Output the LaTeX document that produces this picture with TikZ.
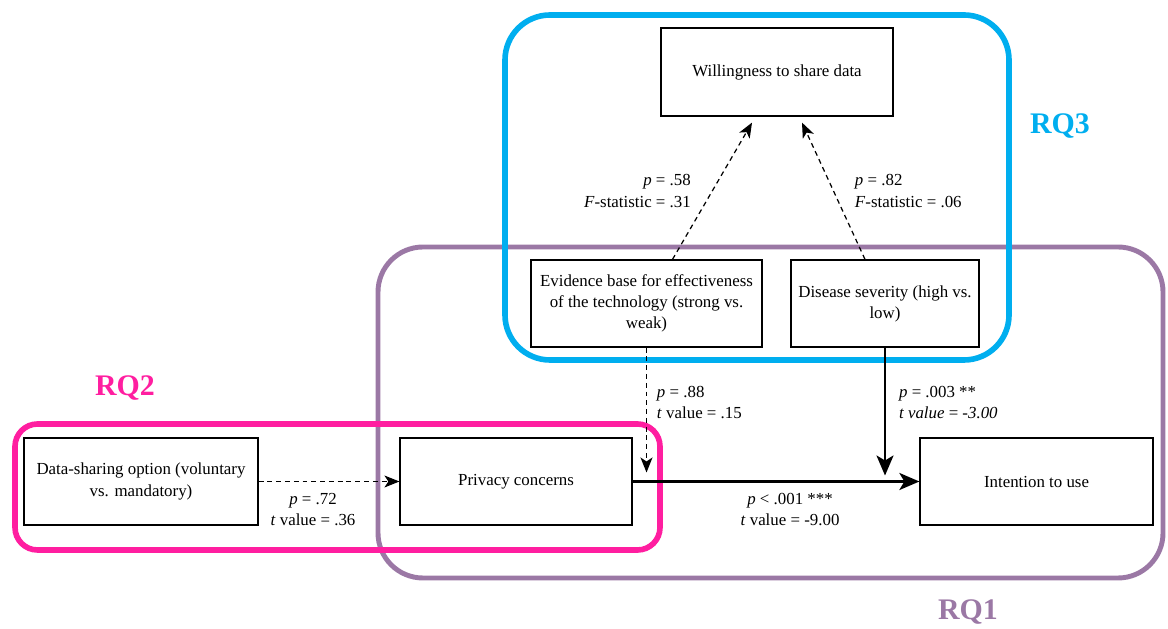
\documentclass[tikz,border=0pt]{standalone}
\usepackage{fontspec}
\setmainfont{Liberation Serif}
\usetikzlibrary{arrows.meta}
\definecolor{rqblue}{RGB}{0,174,239}
\definecolor{rqpink}{RGB}{255,30,160}
\definecolor{rqpurple}{RGB}{155,120,165}
\tikzset{
	var/.style={draw,fill=white,line width=0.7pt,align=center,inner sep=0pt,minimum height=1.74cm},
	stat/.style={font=\fontsize{9.6}{12}\selectfont,align=left},
	rq/.style={font=\fontsize{17}{20}\selectfont\bfseries},
	frame/.style={line width=3.2pt,rounded corners=0.9cm},
	ns/.style={dash pattern=on 2.8pt off 2.2pt,line width=0.7pt,-{Stealth[length=0.3cm,width=0.24cm,inset=0.08cm]}},
	sig/.style={line width=1.4pt,-{Stealth[length=0.4cm,width=0.34cm,inset=0.1cm]}}
}
\begin{document}
\begin{tikzpicture}[every node/.append style={font=\fontsize{9.6}{12}\selectfont}]
\useasboundingbox (0,0) rectangle (23.36,12.56);

% research question frames
\draw[frame,rqpurple,line width=2.8pt](7.56,1.00) rectangle (23.26,7.62);
\draw[frame,rqblue](10.10,5.36) rectangle (20.18,12.26);
\draw[frame,rqpink,rounded corners=0.45cm](0.30,1.56) rectangle (13.20,4.08);
\node[rq,rqblue](rq3) at (21.2,10.04){RQ3};
\node[rq,rqpink](rq2) at (2.5,4.8){RQ2};
\node[rq,rqpurple](rq1) at (19.36,0.32){RQ1};

	\node[var,minimum width=4.64cm,minimum height=1.76cm](share) at (15.54,11.12){Willingness to share data};
	\node[var,minimum width=4.62cm](evidence) at (12.93,6.49){Evidence base for effectiveness\\of the technology (strong vs.\\weak)};
	\node[var,minimum width=3.76cm](severity) at (17.70,6.49){Disease severity (high vs.\\low)};
	\node[var,minimum width=4.68cm](option) at (2.82,2.93){Data-sharing option (voluntary\\vs. mandatory)};
	\node[var,minimum width=4.64cm](privacy) at (10.32,2.93){Privacy concerns};
	\node[var,minimum width=4.66cm](intention) at (20.73,2.93){Intention to use};

\draw[ns]([xshift=0.52cm]evidence.north)--([xshift=-0.5cm,yshift=-0.12cm]share.south)node[midway,left=0.3cm,stat,align=right]{\textit{p} = .58\\\textit{F}-statistic = .31};
\draw[ns]([xshift=-0.4cm]severity.north)--([xshift=0.5cm,yshift=-0.12cm]share.south)node[midway,right=0.3cm,stat]{\textit{p} = .82\\\textit{F}-statistic = .06};

\draw[sig](privacy)--(intention)node[midway,below=0.1cm,xshift=0.28cm,stat,align=center]{\textit{p} {\textless} .001 ***\\\textit{t} value = -9.00};
\draw[ns](option)--(privacy)node[midway,below=0.1cm,xshift=-0.32cm,stat,align=center]{\textit{p} = .72\\\textit{t} value = .36};

\coordinate(evidenceend) at ([yshift=0.18cm]evidence.south |- privacy.east);
\coordinate(severityend) at ([yshift=0.12cm]severity.south |- intention.west);
\draw[ns](evidence.south)--(evidenceend)node[midway,right=0.08cm,yshift=0.16cm,stat]{\textit{p} = .88\\\textit{t} value = .15};
\draw[sig](severity.south)--(severityend)node[midway,right=0.14cm,yshift=0.18cm,stat]{\textit{p} = .003 **\\\textit{t value} = \textit{-3.00}};
\end{tikzpicture}
\end{document}
